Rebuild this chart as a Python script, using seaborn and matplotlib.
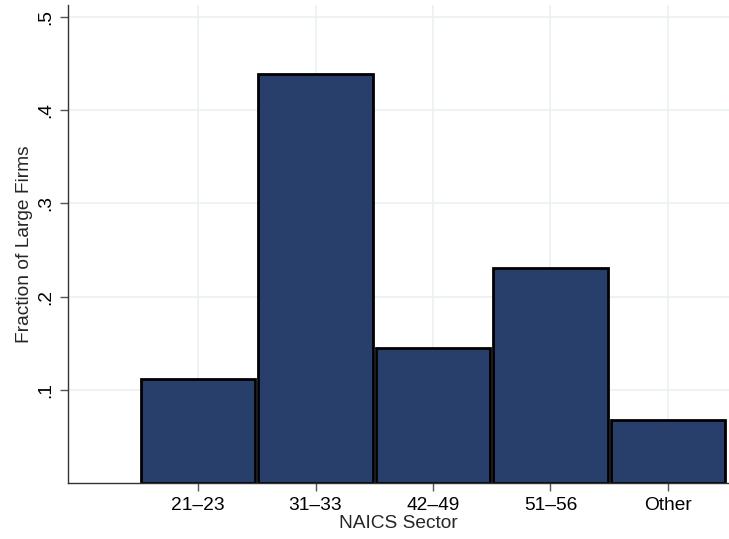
import matplotlib
matplotlib.use("Agg")
import matplotlib.pyplot as plt
import seaborn as sns
import pandas as pd

sectors = ["21\u201323", "31\u201333", "42\u201349", "51\u201356", "Other"]
fractions = [0.112, 0.439, 0.145, 0.231, 0.068]
ytick_vals = [0.1, 0.2, 0.3, 0.4, 0.5]
ytick_labels = [".1", ".2", ".3", ".4", ".5"]

df = pd.DataFrame({"sector": sectors, "fraction": fractions})

sns.set_style("white")
plt.rcParams["font.family"] = ["Liberation Sans", "DejaVu Sans"]

fig = plt.figure(figsize=(7.29, 5.39), dpi=100)
ax = fig.add_axes([68 / 729, 56 / 539, 661 / 729, 478 / 539])

grid_c = "#eaf1f3"
for xv in range(len(sectors)):
    ax.axvline(xv, color=grid_c, lw=1.2, zorder=0)
for yv in ytick_vals:
    ax.axhline(yv, color=grid_c, lw=1.2, zorder=0)

sns.barplot(data=df, x="sector", y="fraction", color="#283f6b", saturation=1,
            width=0.975, edgecolor="black", linewidth=2.0, ax=ax, zorder=2)

ax.set_xlim(-1.107, 4.52)
ax.set_ylim(0, 0.513)
ax.set_yticks(ytick_vals)
ax.set_yticklabels(ytick_labels, rotation=90, va="center")
ax.tick_params(axis="both", which="both", direction="out", length=6, width=1,
               color="#555555", labelsize=13.8, labelcolor="black", pad=4,
               left=True, bottom=True)
ax.set_xlabel("NAICS Sector", fontsize=13.8, labelpad=1)
ax.set_ylabel("Fraction of Large Firms", fontsize=13.8, labelpad=3)

for s in ["top", "right"]:
    ax.spines[s].set_visible(False)
for s in ["left", "bottom"]:
    ax.spines[s].set_color("#333333")
    ax.spines[s].set_linewidth(1)

fig.savefig("out.png", dpi=100)
